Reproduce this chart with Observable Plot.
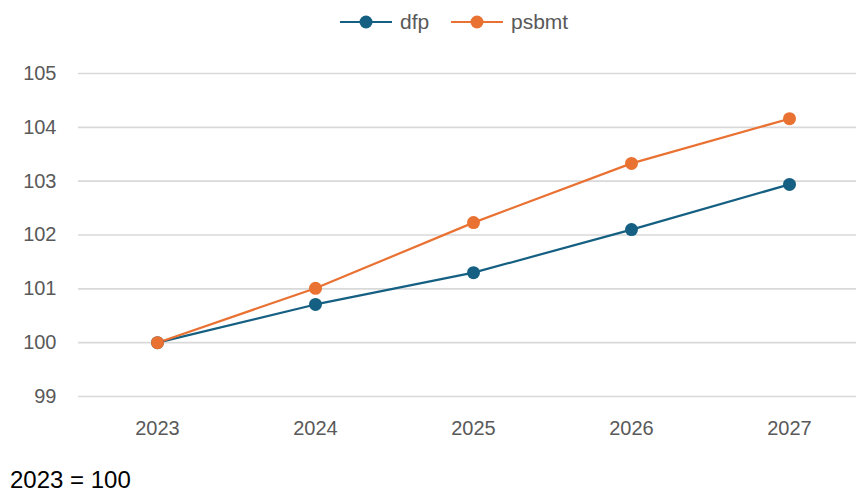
<!DOCTYPE html>
<html><head><meta charset="utf-8">
<script src="https://cdn.jsdelivr.net/npm/d3@7"></script>
<script src="https://cdn.jsdelivr.net/npm/@observablehq/plot@0.6"></script>
<style>
body{margin:0;background:#fff;font-family:"Liberation Sans",Arial,sans-serif;width:857px;height:492px;overflow:hidden;position:relative;}
#legend{height:44px;position:relative;}
.item{position:absolute;top:0;height:44px;display:flex;align-items:center;font-size:21px;color:#595959;}
.item svg{margin-right:8px;}
#caption{height:32px;line-height:32px;padding-left:10px;font-size:24px;color:#000;}
</style></head><body>
<div id="legend"></div>
<div id="chart"></div>
<div id="caption">2023 = 100</div>
<script>
const years = ["2023","2024","2025","2026","2027"];
const seriesNames = ["dfp","psbmt"];
const dfp = [100, 100.71, 101.30, 102.10, 102.94];
const psbmt = [100, 101.01, 102.23, 103.33, 104.16];
const colors = ["#156082","#E97132"];
const yTicks = [99,100,101,102,103,104,105];

const seriesValues = [dfp, psbmt];
const data = [];
seriesNames.forEach((s,i)=>years.forEach((y,j)=>data.push({series:s, year:y, value:seriesValues[i][j]})));

const plot = Plot.plot({
  width: 857,
  height: 420,
  marginLeft: 78,
  marginRight: 1,
  marginTop: 29,
  marginBottom: 68,
  style: {fontFamily: '"Liberation Sans",Arial,sans-serif', fontSize: "20px", color: "#595959", background: "#fff"},
  x: {type: "point", domain: years, range: [156, 789], padding: 0},
  y: {domain: [99, 105]},
  color: {domain: seriesNames, range: colors},
  marks: [
    Plot.gridY(yTicks, {stroke: "#d9d9d9", strokeOpacity: 1, strokeWidth: 1.6}),
    Plot.axisY(yTicks, {tickSize: 0, tickPadding: 22, label: null, tickFormat: d => String(d), fill: "#595959", fontSize: 20}),
    Plot.axisX(years, {tickSize: 0, tickPadding: 24, label: null, fill: "#595959", fontSize: 20}),
    Plot.line(data, {x: "year", y: "value", z: "series", stroke: "series", strokeWidth: 2.2}),
    Plot.dot(data, {x: "year", y: "value", fill: "series", r: 6.5, stroke: "none"})
  ]
});
document.getElementById("chart").appendChild(plot);

// legend
const legend = document.getElementById("legend");
const lefts = [340, 451];
seriesNames.forEach((s,i)=>{
  const d = document.createElement("div");
  d.className = "item";
  d.style.left = lefts[i] + "px";
  d.innerHTML = `<svg width="52" height="14"><line x1="0" x2="52" y1="7" y2="7" stroke="${colors[i]}" stroke-width="2.2"/><circle cx="26" cy="7" r="6.5" fill="${colors[i]}"/></svg><span>${s}</span>`;
  legend.appendChild(d);
});
</script>
</body></html>
